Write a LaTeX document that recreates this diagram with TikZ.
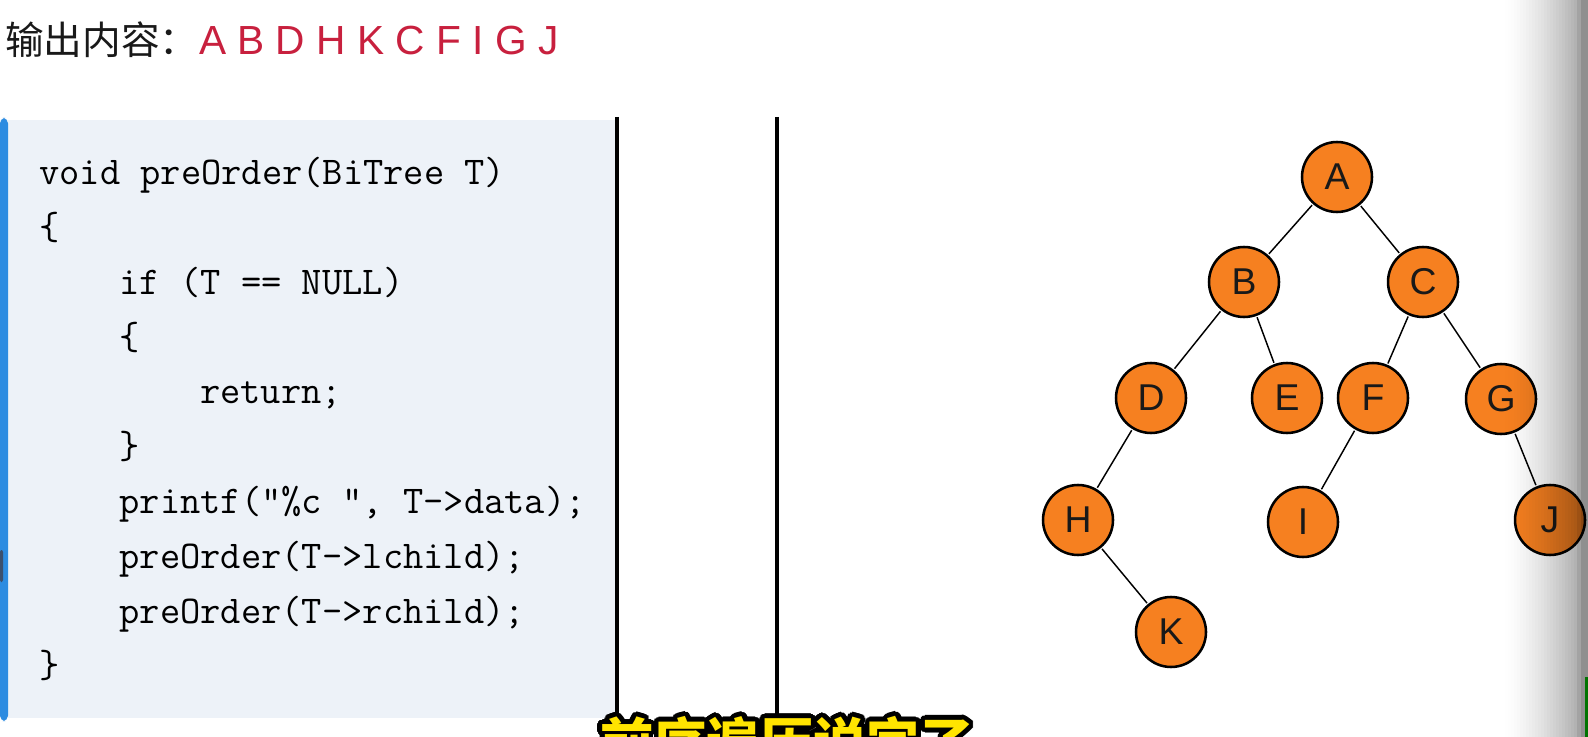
\documentclass[tikz,border=0pt]{standalone}
\usepackage{fontspec}
\usepackage{contour}
\newfontfamily\cjk{Noto Sans CJK SC}
\newfontfamily\latinsans{Liberation Sans}
\definecolor{codebg}{RGB}{237,242,248}
\definecolor{barblue}{RGB}{45,140,225}
\definecolor{thumbgray}{RGB}{60,80,110}
\definecolor{outred}{RGB}{200,32,62}
\definecolor{nodeorange}{RGB}{246,128,32}
\definecolor{subyellow}{RGB}{255,228,0}
\contourlength{3.4pt}
\contournumber{32}
\tikzset{
  treenode/.style={circle,draw=black,line width=1.9pt,fill=nodeorange,minimum size=52.5pt,inner sep=0pt,text=black!90,font=\latinsans\fontsize{28}{28}\selectfont},
  treeedge/.style={line width=1.1pt,shorten <=1pt,shorten >=1pt},
  codeline/.style={anchor=base west,inner sep=0pt,font=\ttfamily\fontsize{29.5}{30}\selectfont},
  divider/.style={line width=3pt,black}
}
\begin{document}
\begin{tikzpicture}[x=0.75pt,y=-0.75pt]
\useasboundingbox (0,0) rectangle (1588,737);
\clip (0,0) rectangle (1588,737);
\fill[white] (0,0) rectangle (1588,737);

% Title
\node[anchor=base west,inner sep=0pt,font=\cjk\fontsize{29}{30}\selectfont,text=black!90] (outlabel) at (5,55) {输出内容：};
\node[anchor=base west,inner sep=0pt,font=\latinsans\fontsize{30.5}{32}\selectfont,text=outred] (outseq) at (outlabel.base east) {A B D H K C F I G J};

% Code box
\fill[codebg] (0,120) rectangle (615,718);
\fill[barblue,rounded corners=4] (0,118) rectangle (8,721);
\fill[thumbgray,rounded corners=1.5] (0,550) rectangle (3,582);

% Code lines
\foreach \i/\ind/\txt in {0/0/{void preOrder(BiTree T)}, 1/0/\{, 2/4/{if (T == NULL)}, 3/4/\{, 4/8/return;, 5/4/\}, 6/4/{printf("\%c ", T->data);}, 7/4/preOrder(T->lchild);, 8/4/preOrder(T->rchild);, 9/0/\}} {
  \node[codeline] (code\i) at ({39+\ind*20.1},{185+\i*54.75}) {\txt};
}

% Dividers
\draw[divider] (617,117) -- (617,737);
\draw[divider] (777,117) -- (777,737);

% Tree
\node[treenode] (A) at (1337,177) {A};
\node[treenode] (B) at (1244,282) {B};
\node[treenode] (C) at (1423,282) {C};
\node[treenode] (D) at (1151,398) {D};
\node[treenode] (E) at (1287,398) {E};
\node[treenode] (F) at (1373,398) {F};
\node[treenode] (G) at (1501,399) {G};
\node[treenode] (H) at (1078,520) {H};
\node[treenode] (I) at (1303,522) {I};
\node[treenode] (J) at (1550,520) {J};
\node[treenode] (K) at (1171,632) {K};
\foreach \a/\b in {A/B,A/C,B/D,B/E,C/F,C/G,D/H,F/I,G/J,H/K}
  \draw[treeedge] (\a) -- (\b);

% Right edge shadow
\foreach \k [evaluate=\k as \op using {0.3*((\k+1)/24)^1.5}] in {0,...,23}
  \fill[black,fill opacity=\op] ({1505+\k*3},0) rectangle ({1508+\k*3},737);
\fill[black,fill opacity=0.36] (1577,0) rectangle (1581,737);
\fill[black,fill opacity=0.44] (1581,0) rectangle (1588,737);
\fill[green!45!black] (1585,677) rectangle (1588,737);

% Subtitle
\node[anchor=north west,inner sep=0pt,font=\cjk\bfseries\fontsize{40}{40}\selectfont,text=subyellow] (subtitle) at (600,716) {\contour{black}{前序遍历说完了}};
\end{tikzpicture}
\end{document}
